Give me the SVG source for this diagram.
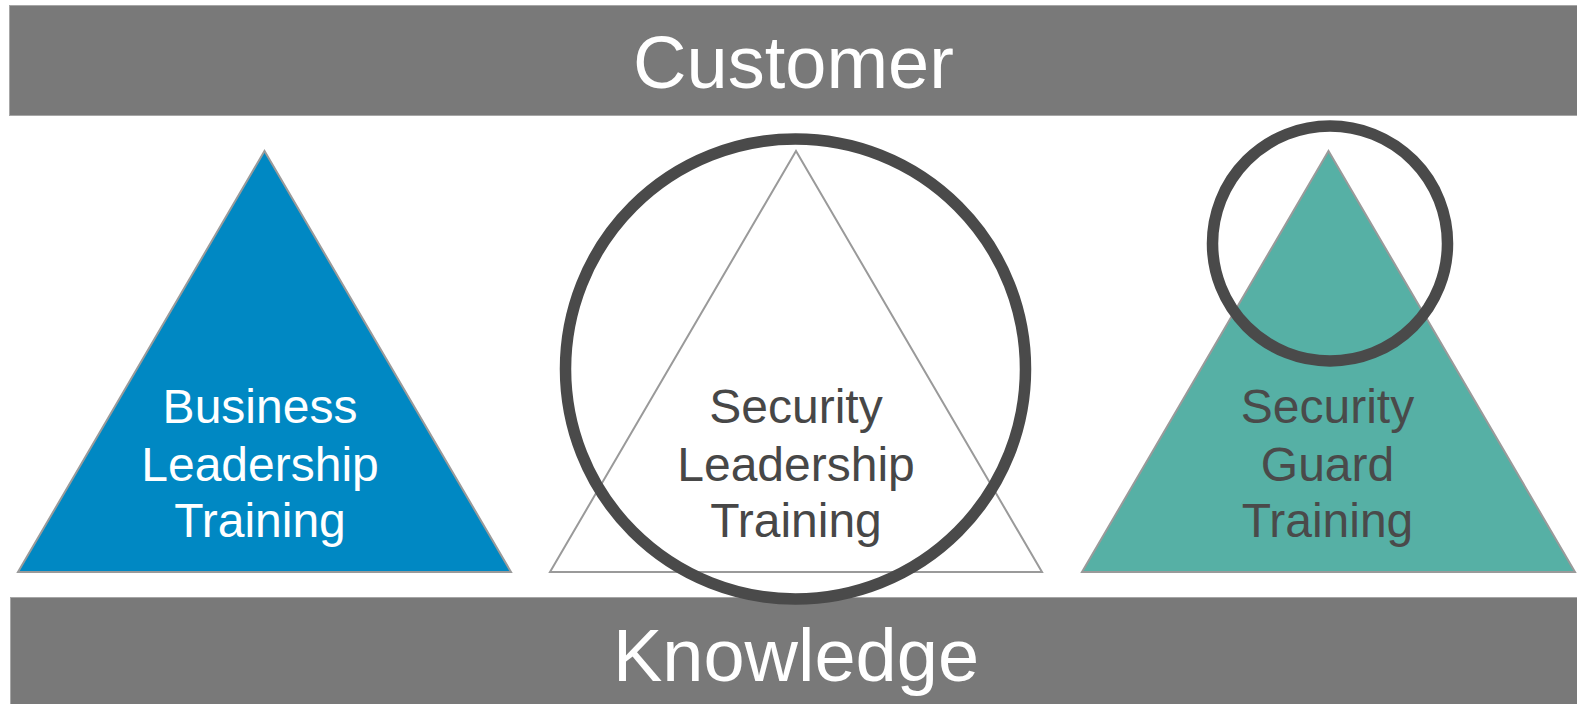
<svg xmlns="http://www.w3.org/2000/svg" width="1577" height="704" viewBox="0 0 1577 704">
  <style>
    .bar { fill: #797979; stroke: #a6a6a6; stroke-width: 1; }
    .bar-label { font-family: "Liberation Sans", Arial, sans-serif; font-size: 74px; fill: #ffffff; text-anchor: middle; }
    .tri { stroke: #9a9a9a; stroke-width: 2; stroke-linejoin: miter; }
    .label { font-family: "Liberation Sans", Arial, sans-serif; font-size: 48px; text-anchor: middle; }
    .ring { fill: none; stroke: #4a4a4a; stroke-width: 11.5; }
  </style>
  <rect width="1577" height="704" fill="#ffffff"/>

  <g id="customer">
    <rect class="bar" x="9.5" y="5.5" width="1580" height="110"/>
    <text class="bar-label" x="793.5" y="88">Customer</text>
  </g>

  <g id="knowledge">
    <rect class="bar" x="10.5" y="597.5" width="1580" height="120"/>
    <text class="bar-label" x="796" y="681">Knowledge</text>
  </g>

  <g id="business-leadership">
    <polygon class="tri" fill="#0088c3" points="264.5,151 18,572 511,572"/>
    <text class="label" fill="#ffffff" x="260" y="423">Business</text>
    <text class="label" fill="#ffffff" x="260" y="481">Leadership</text>
    <text class="label" fill="#ffffff" x="260" y="537">Training</text>
  </g>

  <g id="security-leadership">
    <polygon class="tri" fill="none" points="796,151 550,572 1042,572"/>
    <text class="label" fill="#474747" x="796" y="423">Security</text>
    <text class="label" fill="#474747" x="796" y="481">Leadership</text>
    <text class="label" fill="#474747" x="796" y="537">Training</text>
    <circle class="ring" cx="795.5" cy="369" r="230"/>
  </g>

  <g id="security-guard">
    <polygon class="tri" fill="#56b0a5" points="1328.5,151 1082,572 1575,572"/>
    <text class="label" fill="#4a4a4a" x="1327.5" y="423">Security</text>
    <text class="label" fill="#4a4a4a" x="1327.5" y="481">Guard</text>
    <text class="label" fill="#4a4a4a" x="1327.5" y="537">Training</text>
    <circle class="ring" cx="1330" cy="243.5" r="117.5"/>
  </g>

  <g id="connectors"/>
</svg>
